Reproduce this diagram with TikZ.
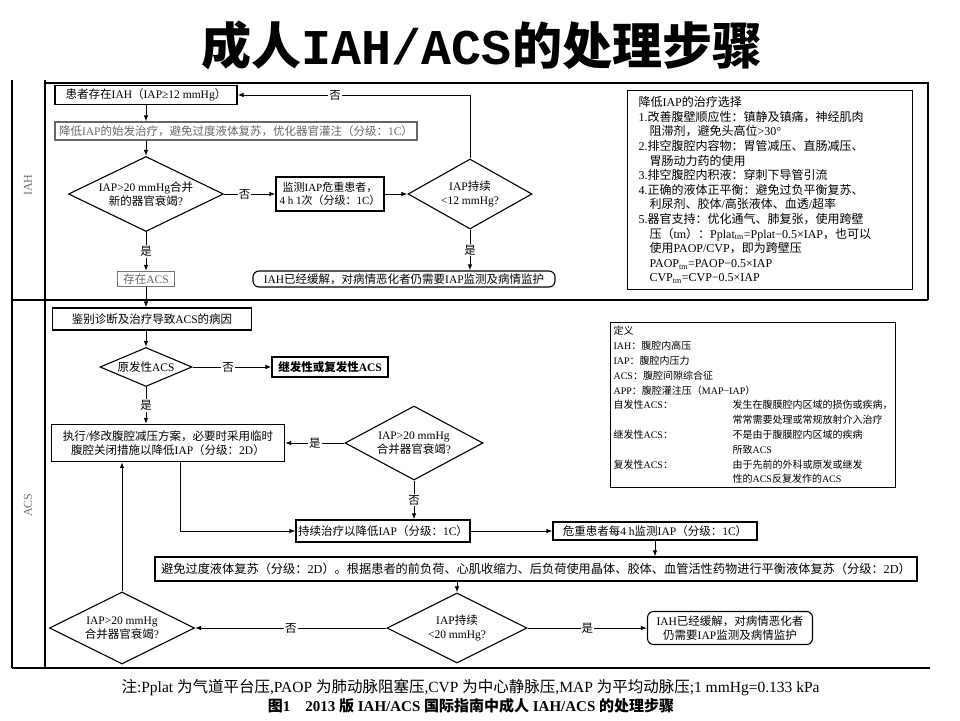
\documentclass[tikz,border=0pt]{standalone}
\usepackage{fontspec}
\setmainfont{Liberation Serif}
\setmonofont{Liberation Mono}
\newfontfamily\cjk{Noto Sans CJK SC}
\XeTeXinterchartokenstate=1
\newXeTeXintercharclass\cjkclass
\newcount\cjkcnt
\def\setcjkrange#1#2{\cjkcnt=#1\relax
  \loop\XeTeXcharclass\cjkcnt=\cjkclass\relax
  \advance\cjkcnt by 1\relax
  \ifnum\cjkcnt<#2\repeat}
\setcjkrange{"3000}{"3040}
\setcjkrange{"4E00}{"A000}
\setcjkrange{"FF00}{"FFF0}
\XeTeXinterchartoks 0 \cjkclass={\begingroup\cjk}
\XeTeXinterchartoks 4095 \cjkclass={\begingroup\cjk}
\XeTeXinterchartoks \cjkclass 0={\endgroup}
\XeTeXinterchartoks \cjkclass 4095={\endgroup}
\usetikzlibrary{shapes.geometric,arrows.meta}

\begin{document}
\begin{tikzpicture}[x=1pt,y=-1pt,
  box/.style={draw, line width=1.1pt, inner sep=2pt, align=center, font=\fontsize{11.5}{14}\selectfont},
  rbox/.style={box, rounded corners=6pt},
  dia/.style={draw, diamond, line width=1.1pt, inner sep=0pt, align=center, font=\fontsize{11.5}{14}\selectfont},
  lab/.style={fill=white, inner sep=1pt, font=\fontsize{11.5}{14}\selectfont},
  arr/.style={line width=1pt, -{Latex[length=6pt,width=4.5pt]}},
  frame/.style={line width=1.4pt}]
\useasboundingbox[fill=white] (0,0) rectangle (960,720);

\node (title) at (482,45) {\fontsize{50}{54}\selectfont\bfseries 成人{\ttfamily IAH/ACS}的处理步骤};

\draw[frame] (12,80) -- (12,668);
\draw[frame] (45,80) -- (45,668);
\draw[frame] (45,83) -- (928,83) -- (928,300);
\draw[frame] (12,300) -- (928,300);
\draw[frame] (12,668) -- (930,668);
\node[rotate=90, text=black!55, font=\fontsize{12}{14}\selectfont] (sIAH) at (28,185) {IAH};
\node[rotate=90, text=black!55, font=\fontsize{12}{14}\selectfont] (sACS) at (28,505) {ACS};

% IAH
\node[box, minimum width=182, minimum height=19] (pat) at (146,95) {患者存在IAH（IAP≥12 mmHg）};
\node[box, minimum width=362, minimum height=18, draw=black!60, text=black!60] (init) at (236,131) {降低IAP的始发治疗，避免过度液体复苏，优化器官灌注（分级：1C）};
\node[dia, minimum width=155, minimum height=75, aspect=2.07] (dA) at (146,194) {IAP>20 mmHg合并\\新的器官衰竭?};
\node[box, minimum width=108, minimum height=34, font=\fontsize{11}{13}\selectfont] (mon) at (330,194) {监测IAP危重患者，\\4 h 1次（分级：1C）};
\node[dia, minimum width=124, minimum height=70, aspect=1.77] (dB) at (470,194) {IAP持续\\<12 mmHg?};
\node[box, minimum width=57, minimum height=15, draw=black!55, text=black!60] (acs) at (146,279) {存在ACS};
\node[rbox, minimum width=302, minimum height=16] (rel) at (404,279) {IAH已经缓解，对病情恶化者仍需要IAP监测及病情监护};

\node[draw, line width=1.1pt, anchor=north west, minimum width=285, minimum height=197, text width=263, inner xsep=11pt, inner ysep=6pt, align=left, font=\fontsize{12}{14.6}\selectfont] (opt) at (627,90) {降低IAP的治疗选择\\
1.改善腹壁顺应性：镇静及镇痛，神经肌肉\\
\hspace*{11pt}阻滞剂，避免头高位>30°\\
2.排空腹腔内容物：胃管减压、直肠减压、\\
\hspace*{11pt}胃肠动力药的使用\\
3.排空腹腔内积液：穿刺下导管引流\\
4.正确的液体正平衡：避免过负平衡复苏、\\
\hspace*{11pt}利尿剂、胶体/高张液体、血透/超率\\
5.器官支持：优化通气、肺复张，使用跨壁\\
\hspace*{11pt}压（tm）：Pplat\textsubscript{tm}=Pplat−0.5×IAP，也可以\\
\hspace*{11pt}使用PAOP/CVP，即为跨壁压\\
\hspace*{11pt}PAOP\textsubscript{tm}=PAOP−0.5×IAP\\
\hspace*{11pt}CVP\textsubscript{tm}=CVP−0.5×IAP};

\draw[arr] (pat.south) -- (pat.south |- init.north);
\draw[arr] (dA.north |- init.south) -- (dA.north);
\draw[arr] (dA.east) -- node[lab, pos=0.4] (l1) {否} (mon.west);
\draw[arr] (mon.east) -- (dB.west);
\draw[arr] (dB.north) |- node[lab, pos=0.79] (l2) {否} (pat.east);
\draw[arr] (dA.south) -- node[lab] (l3) {是} (acs.north);
\draw[arr] (dB.south) -- node[lab] (l4) {是} (dB.south |- rel.north);

% ACS
\node[box, minimum width=199, minimum height=22] (diag) at (152,319) {鉴别诊断及治疗导致ACS的病因};
\node[dia, minimum width=92, minimum height=39, aspect=2.36] (dC) at (146,367) {原发性ACS};
\node[box, minimum width=116, minimum height=20, font=\fontsize{11.5}{14}\selectfont\bfseries] (sec) at (330,367) {继发性或复发性ACS};
\node[box, minimum width=233, minimum height=37] (dec) at (168,443) {执行/修改腹腔减压方案，必要时采用临时\\腹腔关闭措施以降低IAP（分级：2D）};
\node[dia, minimum width=138, minimum height=74, aspect=1.86] (dD) at (414,443) {IAP>20 mmHg\\合并器官衰竭?};
\node[box, minimum width=173, minimum height=22] (cont) at (383,531) {持续治疗以降低IAP（分级：1C）};
\node[box, minimum width=204, minimum height=18] (mon2) at (655,531) {危重患者每4 h监测IAP（分级：1C）};
\node[box, minimum width=762, minimum height=24, font=\fontsize{12.2}{14}\selectfont] (fluid) at (536,569) {避免过度液体复苏（分级：2D）。根据患者的前负荷、心肌收缩力、后负荷使用晶体、胶体、血管活性药物进行平衡液体复苏（分级：2D）};
\node[dia, minimum width=140, minimum height=70, aspect=2] (dE) at (457,628) {IAP持续\\<20 mmHg?};
\node[dia, minimum width=145, minimum height=72, aspect=2] (dF) at (122,628) {IAP>20 mmHg\\合并器官衰竭?};
\node[rbox, minimum width=165, minimum height=33] (rel2) at (730,628) {IAH已经缓解，对病情恶化者\\仍需要IAP监测及病情监护};

\node[draw, line width=1.1pt, anchor=north west, minimum width=285, minimum height=165, text width=279, inner sep=3pt, align=left, font=\fontsize{10}{14.8}\selectfont] (defs) at (610,322) {定义\\
IAH：腹腔内高压\\
IAP：腹腔内压力\\
ACS：腹腔间隙综合征\\
APP：腹腔灌注压（MAP−IAP）\\
\makebox[119pt][l]{自发性ACS：}发生在腹膜腔内区域的损伤或疾病，\\
\hspace*{119pt}常常需要处理或常规放射介入治疗\\
\makebox[119pt][l]{继发性ACS：}不是由于腹膜腔内区域的疾病\\
\hspace*{119pt}所致ACS\\
\makebox[119pt][l]{复发性ACS：}由于先前的外科或原发或继发\\
\hspace*{119pt}性的ACS反复发作的ACS};

\draw[arr] (acs.south) -- (acs.south |- diag.north);
\draw[arr] (dC.north |- diag.south) -- (dC.north);
\draw[arr] (dC.east) -- node[lab, pos=0.45] (l5) {否} (sec.west);
\draw[arr] (dC.south) -- node[lab] (l6) {是} (dC.south |- dec.north);
\draw[arr] (dD.west) -- node[lab] (l7) {是} (dec.east);
\draw[arr] (dD.south) -- node[lab] (l8) {否} (dD.south |- cont.north);
\draw[arr] ([xshift=12pt]dec.south) |- (cont.west);
\draw[arr] (cont.east) -- (mon2.west);
\draw[arr] (mon2.south) -- (mon2.south |- fluid.north);
\draw[arr] (dE.north |- fluid.south) -- (dE.north);
\draw[arr] (dE.west) -- node[lab] (l9) {否} (dF.east);
\draw[arr] (dE.east) -- node[lab] (l10) {是} (rel2.west);
\draw[arr] (dF.north) -- (dF.north |- dec.south);

\node[anchor=west, font=\fontsize{15.5}{17}\selectfont] (note) at (118,688) {注:Pplat 为气道平台压,PAOP 为肺动脉阻塞压,CVP 为中心静脉压,MAP 为平均动脉压;1 mmHg=0.133 kPa};
\node[font=\fontsize{15}{17}\selectfont\bfseries] (cap) at (471,706) {图1\quad 2013 版 IAH/ACS 国际指南中成人 IAH/ACS 的处理步骤};
\end{tikzpicture}
\end{document}
